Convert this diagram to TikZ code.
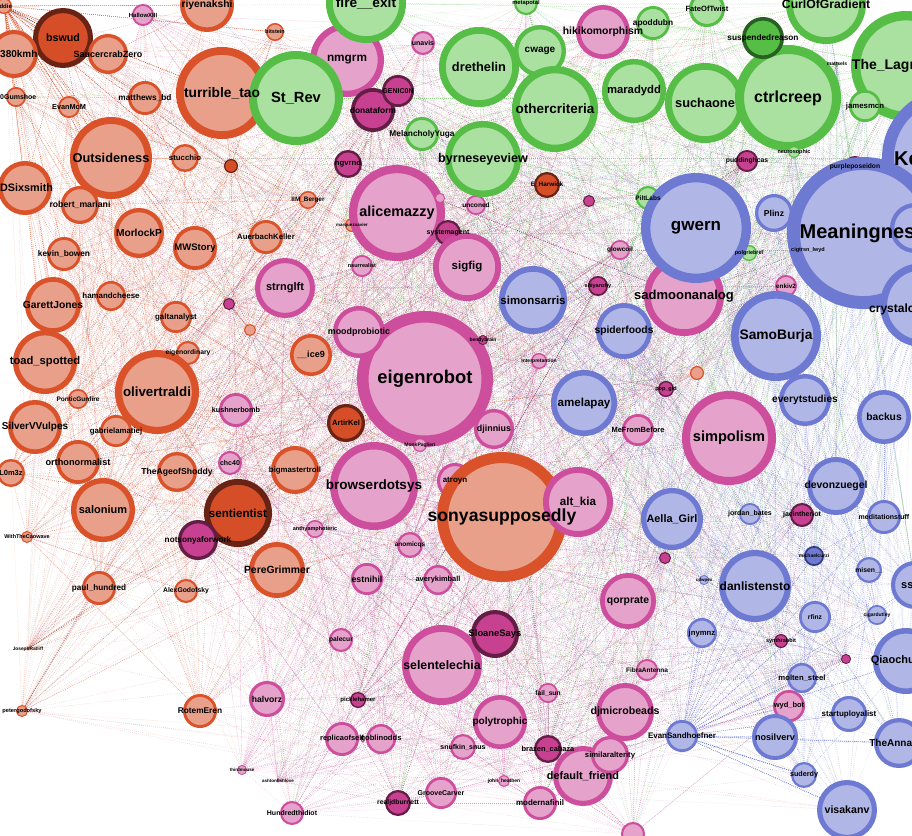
\documentclass[tikz,border=0pt]{standalone}
\usepackage{fontspec}
\setmainfont{Liberation Sans}
\usetikzlibrary{backgrounds}

\definecolor{ornfill}{RGB}{233,160,138}
\definecolor{ornline}{RGB}{218,82,42}
\definecolor{ornDfill}{RGB}{214,78,40}
\definecolor{ornDline}{RGB}{105,35,20}
\definecolor{pnkfill}{RGB}{229,162,202}
\definecolor{pnkline}{RGB}{205,78,157}
\definecolor{pnkDfill}{RGB}{200,65,145}
\definecolor{pnkDline}{RGB}{100,30,70}
\definecolor{grnfill}{RGB}{170,224,160}
\definecolor{grnline}{RGB}{86,190,70}
\definecolor{grnDfill}{RGB}{86,190,70}
\definecolor{grnDline}{RGB}{40,95,35}
\definecolor{blufill}{RGB}{176,182,230}
\definecolor{bluline}{RGB}{110,122,210}
\definecolor{bluDfill}{RGB}{110,122,210}
\definecolor{bluDline}{RGB}{50,60,130}

\tikzset{
  vertex/.style={circle, inner sep=0pt, outer sep=0pt, minimum size=1.83*#1pt, line width=0.17*#1pt},
  orn/.style={vertex=#1, fill=ornfill, draw=ornline},
  ornD/.style={vertex=#1, fill=ornDfill, draw=ornDline},
  pnk/.style={vertex=#1, fill=pnkfill, draw=pnkline},
  pnkD/.style={vertex=#1, fill=pnkDfill, draw=pnkDline},
  grn/.style={vertex=#1, fill=grnfill, draw=grnline},
  grnD/.style={vertex=#1, fill=grnDfill, draw=grnDline},
  blu/.style={vertex=#1, fill=blufill, draw=bluline},
  bluD/.style={vertex=#1, fill=bluDfill, draw=bluDline},
  tie/.style={line width=0.35pt, dash pattern=on 0.6pt off 1.4pt, draw opacity=0.4, draw=#1line},
  tag/.style={inner sep=0pt, text=black},
}

% name/x/y/radius/community/label size/label
\def\netnodes{%
eddie/4/6/8/orn/6/eddie,
bswud/63/38/30/ornD/10.7/bswud,
kmh/14/54/24/orn/5/{},
saucercrab/108/54/20/orn/9/SaucercrabZero,
riyenakshi/207/5/27/orn/10.3/riyenakshi,
gumshoe/16/97/10/orn/5/{},
evanmcm/69/107/11/orn/7.3/EvanMcM,
matthews/145/98/17/orn/8.3/matthews\_bd,
turribletao/222/93/46/orn/13.8/turrible\_tao,
outsideness/111/158/41/orn/12.8/Outsideness,
stucchio/185/158/14/orn/7.8/stucchio,
sixsmith/25/188/27/orn/5/{},
mariani/80/205/19/orn/8.7/robert\_mariani,
morlockp/139/233/25/orn/10.2/MorlockP,
mwstory/195/248/22/orn/9.5/MWStory,
kevinbowen/64/254/17/orn/8.3/kevin\_bowen,
auerbach/266/237/17/orn/7.8/AuerbachKeller,
iimberger/308/200/9/orn/6.4/IIM\_Berger,
bitstein/275/32/9/orn/5.5/bitstein,
sie/231/166/7/ornD/5/{},
sryon/250/330/6/orn/5/{},
marquez/352/225/7/orn/4.5/marquezxavier,
garett/53/305/28/orn/10.3/GarettJones,
hamandcheese/111/296/15/orn/7.9/hamandcheese,
toadspotted/45/362/32/orn/11.2/toad\_spotted,
galtanalyst/176/317/16/orn/8/galtanalyst,
eigenordinary/188/353/12/orn/6.8/eigenordinary,
olivertraldi/157/392/42/orn/13.3/olivertraldi,
pontic/78/399/10/orn/6.5/PonticGunfire,
silvervvulpes/35/427/27/orn/10/SilverVVulpes,
gabriela/116/431/16/orn/7.8/gabrielamatiej,
orthonormalist/78/462/22/orn/9.2/orthonormalist,
ageofshoddy/177/472/20/orn/8.6/TheAgeofShoddy,
lom3z/11/473/14/orn/7.5/L0m3z,
salonium/103/510/32/orn/11/salonium,
cawave/27/537/6/orn/5.5/WithTheCaowave,
paulhundred/99/588/17/orn/8.2/paul\_hundred,
alexgodofsky/186/591/12/orn/6.8/AlexGodofsky,
josephratliff/28/649/1.5/orn/4.8/JosephRatliff,
petergodofsky/22/711/6/orn/5.7/petergodofsky,
rotemeren/200/711/17/orn/8.3/RotemEren,
sentientist/238/513/34/ornD/11.6/sentientist,
ice9/311/355/21/orn/9/\_\_ice9,
artirkel/346/423/19/ornD/7.6/ArtirKel,
bigmastertroll/295/470/24/orn/7.8/bigmastertroll,
peregrimmer/277/570/28/orn/10.4/PereGrimmer,
atroyn/455/481/18/pnk/8/atroyn,
sonya/502/517/65/orn/17.6/sonyasupposedly,
eharwick/547/185/13/ornD/6.4/E\_Harwick,
mayie/697/373/7/orn/5/{},
hallowxiii/143/15/11/pnk/6/HallowXIII,
nmgrm/347/60/37/pnk/11.8/nmgrm,
unavis/423/43/12/pnk/7/unavis,
donataform/373/110/22/pnkD/8.4/donataform,
genicon/398/91/16/pnkD/7/GENIC0N,
ngvrnd/348/164/14/pnkD/7.7/ngvrnd,
alicemazzy/397/213/48/pnk/14.4/alicemazzy,
systemagent/448/233/13/pnkD/7/systemagent,
maggie/440/198/5/pnk/5/{},
nsurrealist/362/266/11/pnk/5.5/nsurrealist,
strnglft/285/288/30/pnk/11/strnglft,
unconed/476/205/10/pnk/6.6/unconed,
sebsb/589/201/6/pnkD/5/{},
glowcoil/620/250/10/pnk/6.4/glowcoil,
hikikomorphism/603/32/27/pnk/10.4/hikikomorphism,
puddinghcas/747/161/11/pnkD/6.8/puddinghcas,
purpleposeidon/855/167/11/pnkD/6.7/purpleposeidon,
cigtrsn/808/250/7/pnkD/5.5/cigtrsn\_lwyd,
sigfig/467/267/34/pnk/11.5/sigfig,
sadmoonanalog/684/296/40/pnk/13/sadmoonanalog,
shiyanzhy/598/286/10/pnkD/5.5/shiyanzhy,
enkiv2/786/286/11/pnk/6.3/enkiv2,
eigenrobot/425/379/68/pnk/18.4/eigenrobot,
moodprobiotic/359/332/26/pnk/8.9/moodprobiotic,
djinnius/494/429/20/pnk/8.9/djinnius,
kushnerbomb/236/410/17/pnk/7.3/kushnerbomb,
ubeon/229/304/6/pnkD/5/{},
bendybrain/483/340/5/pnkD/5/bendybrain,
interpretantion/539/361/8/pnk/5/Interpretantion,
popgid/666/389/8/pnkD/5.5/pop\_gid,
mefrombefore/638/430/16/pnk/7.5/MeFromBefore,
simpolism/729/438/47/pnk/14.6/simpolism,
monkpaglieri/420/445/7/pnk/5/MonkPaglieri,
browserdotsys/374/486/44/pnk/13.5/browserdotsys,
altkia/578/502/35/pnk/11.6/alt\_kia,
chc40/230/463/12/pnk/7/chc40,
notsonya/198/540/20/pnkD/8.2/notsonyaforwork,
anthy/315/529/9/pnk/5.5/anthyamphoteric,
anomicqs/410/545/13/pnk/6.5/anomicqs,
estnihil/367/579/16/pnk/8.8/estnihil,
averykimball/438/580/15/pnk/7.4/averykimball,
palecur/341/640/12/pnk/6.7/palecur,
selentelechia/442/665/40/pnk/12.3/selentelechia,
sloanesays/495/634/24/pnkD/9.4/SloaneSays,
halvorz/267/699/18/pnk/8.6/halvorz,
picklehamer/358/700/8/pnkD/6/picklehamer,
replicaofself/342/739/17/pnk/7.4/replicaofself,
goblinodds/381/739/15/pnk/7.6/goblinodds,
thirdmouse/242/770/5/pnk/4.5/thirdmouse,
ashtonfishlove/278/781/1.5/pnk/4.5/ashtonfishlove,
hundredthidiot/292/813/12/pnk/7/Hundredthidiot,
realjdburnett/398/803/13/pnkD/6.8/realjdburnett,
groovecarver/441/793/16/pnk/7/GrooveCarver,
snufkin/463/747/13/pnk/7/snufkin\_snus,
failsun/548/693/10/pnk/6.7/fail\_sun,
polytrophic/500/722/27/pnk/10.1/polytrophic,
brazen/548/749/14/pnkD/7.4/brazen\_cabaza,
johnheathen/504/781/6/pnk/5/john\_heathen,
modernafinil/540/803/17/pnk/8/modernafinil,
defaultfriend/583/776/30/pnk/10.9/default\_friend,
similaralterity/610/755/19/pnk/7.7/similaralterity,
djmicrobeads/625/712/29/pnk/10.6/djmicrobeads,
fibraantenna/647/670/11/pnk/6.5/FibraAntenna,
qorprate/628/601/28/pnk/10.4/qorprate,
sphex/665/558/6/pnkD/5/{},
bottompink/633/834/12/pnk/5/{},
jacinth/802/515/12/pnkD/7/jacintheriot,
synthrabbit/781/641/7/pnkD/5.5/synthrabbit,
krunch/846/659/5/pnkD/5/{},
wydbot/789/706/16/pnk/7.5/wyd\_bot,
fireexit/366/3/40/grn/13.7/fire\_\_exit,
strev/296/98/47/grn/14.7/St\_Rev,
melancholyyuga/422/134/17/grn/8.3/MelancholyYuga,
drethelin/479/67/40/grn/12.8/drethelin,
metapotal/526/3/12/grn/5.8/metapotal,
cwage/540/51/26/grn/10/cwage,
othercriteria/555/109/43/grn/13.5/othercriteria,
maradydd/634/91/32/grn/11.3/maradydd,
apoddubn/653/23/17/grn/8.3/apoddubn,
byrneseyeview/483/159/38/grn/12.6/byrneseyeview,
piltlabs/648/198/12/grn/6.5/PiltLabs,
fateoftwist/707/9/18/grn/7.6/FateOfTwist,
curlofgradient/826/4/40/grn/12.2/CurlOfGradient,
suchaone/705/103/40/grn/12.8/suchaone,
ctrlcreep/788/98/53/grn/16/ctrlcreep,
suspendedreason/763/38/21/grnD/8.3/suspendedreason,
lagrangian/906/66/55/grn/14/The\_Lagrangian,
jamesmcn/865/106/16/grn/7.8/jamesmcn,
mattsels/837/64/2/grn/5/mattsels,
neurosophic/794/152/6/grn/5.5/neurosophic,
polgriebrel/749/253/8/grn/5.5/polgriebrel,
kevinsimler/952/158/70/blu/20/KevinSimler,
gwern/696/228/55/blu/17/gwern,
plinz/774/213/19/blu/8.6/Plinz,
meaningness/863/233/76/blu/20/Meaningness,
bluecut/915/228/25/blu/5/{},
simonsarris/533/300/34/blu/11.5/simonsarris,
spiderfoods/624/331/28/blu/10.3/spiderfoods,
crystal/922/305/42/blu/5/{},
samoburja/776/336/45/blu/13.8/SamoBurja,
everytstudies/805/400/26/blu/10.2/everytstudies,
backus/884/417/27/blu/10.3/backus,
amelapay/584/403/33/blu/11.6/amelapay,
aellagirl/672/519/31/blu/10.9/Aella\_Girl,
devonzuegel/836/486/29/blu/10.4/devonzuegel,
meditationstuff/884/517/17/blu/7/meditationstuff,
jordanbates/750/514/11/blu/7/jordan\_bates,
curzi/814/556/10/bluD/5/michaelcurzi,
danlistensto/755/586/36/blu/12/danlistensto,
misen/869/570/13/blu/6.8/misen\_\_,
ssi/915/585/24/blu/5/{},
rfinz/815/617/16/blu/6.7/rfinz,
cigardutley/877/615/10/blu/5/cigardutley,
jnymnz/702/633/15/blu/7.7/jnymnz,
cdwpex/704/580/5/blu/4.5/cdwpex,
qiaochu/906/661/33/blu/11/QiaochuYuan,
moltensteel/802/678/15/blu/7.7/molten\_steel,
startuployalist/849/714/18/blu/8/startuployalist,
nosilverv/775/737/23/blu/9.1/nosilverv,
annagat/899/743/25/blu/10/TheAnnaGat,
suderdy/804/775/13/blu/7.2/suderdy,
visakanv/847/810/30/blu/10.6/visakanv,
evansandhoefner/682/736/16/blu/8/EvanSandhoefner}

\begin{document}
\begin{tikzpicture}[x=1pt,y=-1pt]
\useasboundingbox (0,0) rectangle (912,835);
\clip (0,0) rectangle (912,835);

% accounts
\foreach \nm/\px/\py/\rad/\sty/\fs/\lab [count=\i] in \netnodes {
  \node[\sty=\rad, alias=v\i] (\nm) at (\px,\py) {};
  \xdef\nnodes{\i}
}

% follows, mostly inside a cluster, some across
\begin{scope}[on background layer]
\clip (0,0) rectangle (912,835);
\fill[white] (0,0) rectangle (912,835);
\pgfmathsetseed{7}
\foreach \nm/\px/\py/\rad/\sty/\fs/\lab [count=\i] in \netnodes {
  \foreach \k in {1,...,18} {
    \pgfmathtruncatemacro{\j}{max(1,min(\nnodes,\i+random(0,60)-30))}
    \draw[tie=\sty] (v\i.center) -- (v\j.center);
  }
  \foreach \k in {1,...,8} {
    \pgfmathtruncatemacro{\j}{random(1,\nnodes)}
    \draw[tie=\sty] (v\i.center) -- (v\j.center);
  }
}
\end{scope}

% handles on top
\foreach \nm/\px/\py/\rad/\sty/\fs/\lab in \netnodes
  \node[tag, font=\bfseries\fontsize{\fs}{\fs}\selectfont] (\nm-t) at (\nm) {\lab};

% handles cut by the frame
\node[tag, anchor=west, font=\bfseries\fontsize{10}{10}\selectfont] (kmh-t) at (0,54) {380kmh};
\node[tag, anchor=west, font=\bfseries\fontsize{7}{7}\selectfont] (gumshoe-t) at (0,97) {0Gumshoe};
\node[tag, anchor=west, font=\bfseries\fontsize{10.8}{10.8}\selectfont] (sixsmith-t) at (0,188) {DSixsmith};
\node[tag, anchor=west, font=\bfseries\fontsize{12}{12}\selectfont] (crystal-t) at (869,309) {crystalc};
\node[tag, anchor=west, font=\bfseries\fontsize{11}{11}\selectfont] (ssi-t) at (901,585) {ssi};
\end{tikzpicture}
\end{document}
